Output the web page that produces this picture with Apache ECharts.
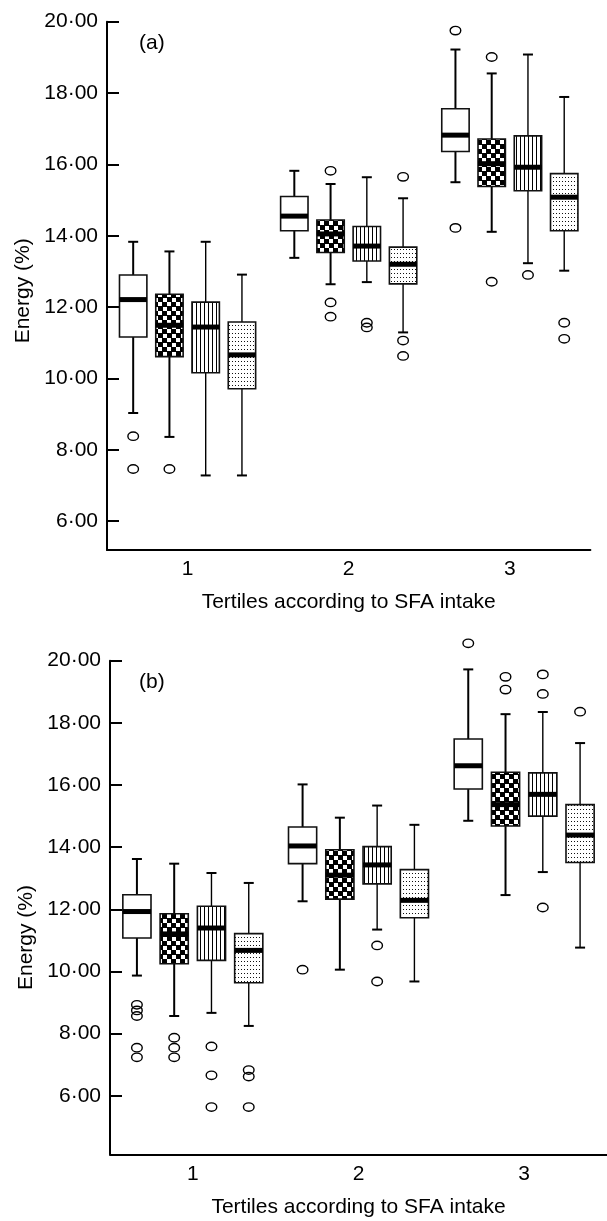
<!DOCTYPE html>
<html>
<head>
<meta charset="utf-8">
<script src="https://cdn.jsdelivr.net/npm/echarts@6/dist/echarts.min.js"></script>
<style>html,body{margin:0;padding:0;background:#fff}</style>
</head>
<body>
<div id="main" style="width:607px;height:1221px"></div>
<script>
var tertiles = ['1', '2', '3'];
var yTicks = [6, 8, 10, 12, 14, 16, 18, 20];
var FONT = '"Liberation Sans", Arial, sans-serif';

// per tertile: [lower whisker, Q1, median, Q3, upper whisker]
// panel (a)
var openA    = [[9.03, 11.16, 12.21, 12.90, 13.83], [13.38, 14.14, 14.55, 15.10, 15.82], [15.50, 16.36, 16.82, 17.56, 19.22]];
var checkedA = [[8.36, 10.61, 11.49, 12.36, 13.56], [12.64, 13.53, 14.05, 14.44, 15.45], [14.11, 15.38, 16.02, 16.71, 18.55]];
var stripedA = [[7.28, 10.16, 11.44, 12.14, 13.83], [12.70, 13.29, 13.71, 14.26, 15.64], [13.23, 15.26, 15.92, 16.80, 19.08]];
var dottedA  = [[7.28, 9.71, 10.66, 11.58, 12.91], [11.29, 12.65, 13.20, 13.68, 15.05], [13.02, 14.14, 15.08, 15.74, 17.89]];
// outliers: [tertile, box, value]
var outliersA = [
  [0, 0, 8.38], [0, 0, 7.46], [2, 0, 19.75], [2, 0, 14.22],
  [0, 1, 7.46], [1, 1, 15.82], [1, 1, 12.13], [1, 1, 11.73], [2, 1, 19.01], [2, 1, 12.71],
  [1, 2, 11.56], [1, 2, 11.43], [2, 2, 12.90],
  [1, 3, 15.65], [1, 3, 11.06], [1, 3, 10.63], [2, 3, 11.56], [2, 3, 11.11]
];

// panel (b)
var openB    = [[9.87, 11.08, 11.93, 12.47, 13.62], [12.26, 13.47, 14.04, 14.65, 16.02], [14.85, 15.87, 16.62, 17.48, 19.72]];
var checkedB = [[8.57, 10.25, 11.21, 11.86, 13.47], [10.06, 12.33, 13.10, 13.92, 14.95], [12.46, 14.68, 15.37, 16.41, 18.28]];
var stripedB = [[8.67, 10.36, 11.40, 12.10, 13.17], [11.35, 12.82, 13.43, 14.02, 15.34], [13.20, 15.00, 15.70, 16.39, 18.35]];
var dottedB  = [[8.25, 9.64, 10.68, 11.22, 12.85], [9.68, 11.73, 12.29, 13.28, 14.72], [10.77, 13.51, 14.39, 15.37, 17.35]];
var outliersB = [
  [0, 0, 8.93], [0, 0, 8.75], [0, 0, 8.57], [0, 0, 7.55], [0, 0, 7.24], [1, 0, 10.06], [2, 0, 20.56],
  [0, 1, 7.87], [0, 1, 7.55], [0, 1, 7.24], [2, 1, 19.48], [2, 1, 19.07],
  [0, 2, 7.59], [0, 2, 6.66], [0, 2, 5.64], [1, 2, 10.84], [1, 2, 9.68], [2, 2, 19.56], [2, 2, 18.93], [2, 2, 12.06],
  [0, 3, 6.83], [0, 3, 6.62], [0, 3, 5.64], [2, 3, 18.36]
];

// fill patterns
function pattern(w, h, draw) {
  var c = document.createElement('canvas');
  c.width = w; c.height = h;
  var g = c.getContext('2d');
  g.fillStyle = '#fff'; g.fillRect(0, 0, w, h);
  g.fillStyle = '#000';
  draw(g);
  return { image: c, repeat: 'repeat' };
}
var fills = [
  '#fff',
  pattern(9, 9, function (g) { g.fillRect(0, 0, 9, 9); g.fillStyle = '#fff'; g.fillRect(1, 1, 4, 4); g.fillRect(5, 5, 4, 4); }),
  pattern(4, 1, function (g) { g.fillRect(0, 0, 1, 1); }),
  pattern(3, 4, function (g) { g.fillStyle = '#111'; g.fillRect(1, 1, 1, 1); })
];

function boxX(api, t, k) {
  var band = api.size([1, 0])[0];
  return { cx: api.coord([t, 0])[0] + (k - 1.5) * 0.225 * band, w: 0.17 * band };
}

function boxRender(k) {
  return function (params, api) {
    var t = api.value(0);
    var p = boxX(api, t, k);
    var cx = p.cx, w = p.w;
    var y = [1, 2, 3, 4, 5].map(function (d) { return api.coord([t, api.value(d)])[1]; });
    var lw = k < 2 ? 2 : 1.4;
    var ln = function (x1, y1, x2, y2, width) {
      return { type: 'line', shape: { x1: x1, y1: y1, x2: x2, y2: y2 }, style: { stroke: '#000', lineWidth: width } };
    };
    return {
      type: 'group',
      children: [
        ln(cx, y[4], cx, y[3], lw),
        ln(cx, y[1], cx, y[0], lw),
        ln(cx - 5, y[4], cx + 5, y[4], 2),
        ln(cx - 5, y[0], cx + 5, y[0], 2),
        { type: 'rect', shape: { x: cx - w / 2, y: y[3], width: w, height: y[1] - y[3] },
          style: { fill: fills[k], stroke: '#111', lineWidth: 1.6 } },
        ln(cx - w / 2, y[2], cx + w / 2, y[2], 5)
      ]
    };
  };
}

function outlierRender(params, api) {
  var t = api.value(0);
  var p = boxX(api, t, api.value(1));
  var cy = api.coord([t, api.value(2)])[1];
  return { type: 'ellipse', shape: { cx: p.cx, cy: cy, rx: 5.3, ry: 4.2 },
    style: { fill: 'none', stroke: '#000', lineWidth: 1.4 } };
}

function xAxisFor(i) {
  return {
    gridIndex: i, type: 'category', data: tertiles, boundaryGap: true,
    name: 'Tertiles according to SFA intake', nameLocation: 'middle', nameGap: 42,
    nameTextStyle: { color: '#000', fontSize: 21, fontFamily: FONT },
    axisLine: { lineStyle: { color: '#000', width: 2 } },
    axisTick: { inside: true, length: 11, alignWithLabel: true, lineStyle: { color: '#000', width: 2 } },
    axisLabel: { margin: 9, color: '#000', fontSize: 21, fontFamily: FONT },
    splitLine: { show: false }
  };
}
function yAxisFor(i, min, namePad) {
  return {
    gridIndex: i, type: 'value', min: min, max: 20,
    name: 'Energy (%)', nameLocation: 'middle', nameGap: 72, nameRotate: 90,
    nameTextStyle: { color: '#000', fontSize: 21, fontFamily: FONT, padding: namePad },
    axisLine: { show: true, lineStyle: { color: '#000', width: 2 } },
    axisTick: { show: true, inside: true, length: 12, customValues: yTicks, lineStyle: { color: '#000', width: 2 } },
    axisLabel: { margin: 9, color: '#000', fontSize: 21, fontFamily: FONT, customValues: yTicks,
      formatter: function (v) { return v.toFixed(2).replace('.', '\u00b7'); } },
    splitLine: { show: false }
  };
}

var panels = [
  [openA, checkedA, stripedA, dottedA, outliersA],
  [openB, checkedB, stripedB, dottedB, outliersB]
];
var series = [];
panels.forEach(function (pn, i) {
  for (var k = 0; k < 4; k++) {
    series.push({
      type: 'custom', xAxisIndex: i, yAxisIndex: i,
      renderItem: boxRender(k),
      encode: { x: 0, y: [1, 2, 3, 4, 5] },
      data: pn[k].map(function (d, t) { return [t].concat(d); })
    });
  }
  series.push({
    type: 'custom', xAxisIndex: i, yAxisIndex: i, z: 5,
    renderItem: outlierRender,
    encode: { x: 0, y: 2 },
    data: pn[4]
  });
});

var myChart = echarts.init(document.getElementById('main'));
myChart.setOption({
  animation: false,
  backgroundColor: '#fff',
  grid: [
    { left: 107, top: 21.7, width: 483.4, height: 528.3 },
    { left: 110, top: 660.7, width: 497, height: 493.6 }
  ],
  xAxis: [xAxisFor(0), xAxisFor(1)],
  yAxis: [yAxisFor(0, 5.19, [0, 10, 0, 0]), yAxisFor(1, 4.12, [0, 60, 0, 0])],
  graphic: [
    { type: 'text', left: 139, top: 33, style: { text: '(a)', font: '21px ' + FONT, fill: '#000' } },
    { type: 'text', left: 139, top: 672, style: { text: '(b)', font: '21px ' + FONT, fill: '#000' } }
  ],
  series: series
});
</script>
</body>
</html>
